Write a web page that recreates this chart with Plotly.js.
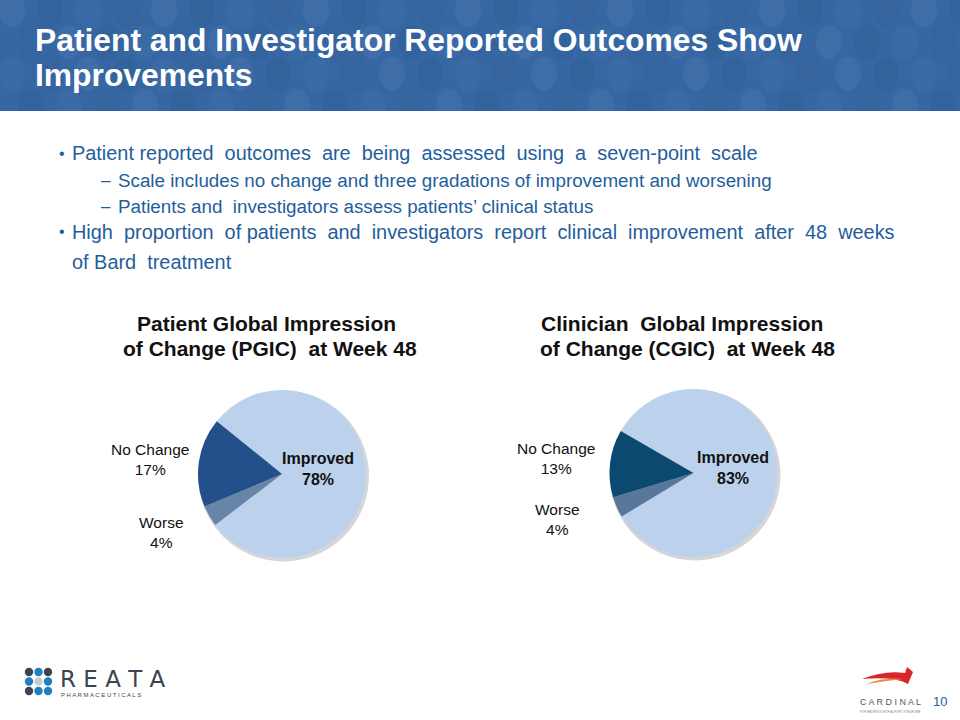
<!DOCTYPE html>
<html>
<head>
<meta charset="utf-8">
<script src="https://cdn.plot.ly/plotly-3.0.1.min.js"></script>
<style>html,body{margin:0;padding:0;background:#fff;}#chart{width:960px;height:720px;}</style>
</head>
<body>
<div id="chart"></div>
<script>
// ---- data ----
var pgicLabels = ["Improved", "Worse", "No Change"];
var pgicValues = [78, 4, 17];
var cgicLabels = ["Improved", "Worse", "No Change"];
var cgicValues = [83, 4, 13];

var slideTitle = ["Patient and Investigator Reported Outcomes Show", "Improvements"];
var chartTitles = [["Patient Global Impression", "of Change (PGIC)  at Week 48"],
                   ["Clinician  Global Impression", "of Change (CGIC)  at Week 48"]];
var bullets = [
  {lvl: 1, text: "Patient reported  outcomes  are  being  assessed  using  a  seven-point  scale"},
  {lvl: 2, text: "Scale includes no change and three gradations of improvement and worsening"},
  {lvl: 2, text: "Patients and  investigators assess patients’ clinical status"},
  {lvl: 1, text: "High  proportion  of patients  and  investigators  report  clinical  improvement  after  48  weeks"},
  {lvl: 0, text: "of Bard  treatment"}
];

// ---- helpers ----
var W = 960, H = 720;
function px(x) { return x / W; }
function py(y) { return 1 - y / H; }

var pgicColors = ["#bcd2ec", "#6784a9", "#23508a"];
var cgicColors = ["#bcd2ec", "#58779a", "#0b4970"];

// pie domains (pixel boxes)
var pieBoxes = [[198, 366, 390, 558], [609.5, 777.5, 389, 557]];

var data = [
  {type: "pie", labels: pgicLabels, values: pgicValues, sort: false, direction: "clockwise",
   rotation: -51, textinfo: "none", hoverinfo: "label+percent",
   marker: {colors: pgicColors, line: {width: 0}},
   domain: {x: [px(pieBoxes[0][0]), px(pieBoxes[0][1])], y: [py(pieBoxes[0][3]), py(pieBoxes[0][2])]}, showlegend: false},
  {type: "pie", labels: cgicLabels, values: cgicValues, sort: false, direction: "clockwise",
   rotation: -60, textinfo: "none", hoverinfo: "label+percent",
   marker: {colors: cgicColors, line: {width: 0}},
   domain: {x: [px(pieBoxes[1][0]), px(pieBoxes[1][1])], y: [py(pieBoxes[1][3]), py(pieBoxes[1][2])]}, showlegend: false}
];

var shapes = [];
var annotations = [];

// header band
shapes.push({type: "rect", xref: "paper", yref: "paper", x0: 0, x1: 1, y0: py(111), y1: 1,
  fillcolor: "#3767a2", line: {width: 0}, layer: "below"});
// subtle dotted texture in the band
var dotShades = ["#4272ac", "#31609a", "#3d6ea9", "#34629d"];
for (var r = 0; r < 4; r++) {
  for (var c = 0; c < 26; c++) {
    var cx = 12 + c * 38 + (r % 2) * 19;
    var cy = 10 + r * 32;
    var rx = 13, ry = 17;
    if (cy - ry >= 111) continue;
    shapes.push({type: "circle", xref: "paper", yref: "paper",
      x0: px(cx - rx), x1: px(cx + rx), y0: py(cy + ry), y1: py(cy - ry),
      fillcolor: dotShades[(r * 3 + c) % 4], opacity: 0.6, line: {width: 0}, layer: "below"});
  }
}
// cover circles that spill below band
shapes.push({type: "rect", xref: "paper", yref: "paper", x0: 0, x1: 1, y0: py(135), y1: py(111),
  fillcolor: "#ffffff", line: {width: 0}, layer: "below"});

// soft shadows behind pies
pieBoxes.forEach(function (b) {
  var cx = (b[0] + b[1]) / 2 + 1.5, cy = (b[2] + b[3]) / 2 + 2, rr = (b[1] - b[0]) / 2 + 1.5;
  shapes.push({type: "circle", xref: "paper", yref: "paper",
    x0: px(cx - rr), x1: px(cx + rr), y0: py(cy + rr), y1: py(cy - rr),
    fillcolor: "#8a8a8a", opacity: 0.35, line: {width: 0}, layer: "below"});
});

// slide title
annotations.push({xref: "paper", yref: "paper", x: px(33), y: py(40), xanchor: "left", yanchor: "middle",
  text: "<b>" + slideTitle[0] + "</b>", showarrow: false,
  font: {family: "Liberation Sans, Arial", size: 31.8, color: "#ffffff"}});
annotations.push({xref: "paper", yref: "paper", x: px(33), y: py(75), xanchor: "left", yanchor: "middle",
  text: "<b>" + slideTitle[1] + "</b>", showarrow: false,
  font: {family: "Liberation Sans, Arial", size: 31.8, color: "#ffffff"}});

// bullets
var bulletY = [153, 180, 206, 232, 262];
var blue = "#1f5e9c";
bullets.forEach(function (b, i) {
  var x, size;
  if (b.lvl === 1) { x = 70; size = 19.9; }
  else if (b.lvl === 2) { x = 116; size = 18.8; }
  else { x = 70; size = 19.9; }
  if (b.lvl === 1) {
    annotations.push({xref: "paper", yref: "paper", x: px(57), y: py(bulletY[i]), xanchor: "left", yanchor: "middle",
      text: "•", showarrow: false, font: {family: "Liberation Sans, Arial", size: 16, color: blue}});
  }
  if (b.lvl === 2) {
    annotations.push({xref: "paper", yref: "paper", x: px(99), y: py(bulletY[i]), xanchor: "left", yanchor: "middle",
      text: "–", showarrow: false, font: {family: "Liberation Sans, Arial", size: 17, color: blue}});
  }
  annotations.push({xref: "paper", yref: "paper", x: px(x), y: py(bulletY[i]), xanchor: "left", yanchor: "middle",
    text: b.text.replace(/  /g, " &nbsp;"), showarrow: false,
    font: {family: "Liberation Sans, Arial", size: size, color: blue}});
});

// chart titles
var titleX = [[266, 270], [682, 687]];
[0, 1].forEach(function (k) {
  annotations.push({xref: "paper", yref: "paper", x: px(titleX[k][0]), y: py(323), xanchor: "center", yanchor: "middle",
    text: "<b>" + chartTitles[k][0].replace(/  /g, " &nbsp;") + "</b>", showarrow: false,
    font: {family: "Liberation Sans, Arial", size: 21, color: "#111111"}});
  annotations.push({xref: "paper", yref: "paper", x: px(titleX[k][1]), y: py(348), xanchor: "center", yanchor: "middle",
    text: "<b>" + chartTitles[k][1].replace(/  /g, " &nbsp;") + "</b>", showarrow: false,
    font: {family: "Liberation Sans, Arial", size: 21, color: "#111111"}});
});

// slice labels
function sliceLabel(x, y, label, val, bold) {
  var t = label + "<br>" + val + "%";
  var size = 15.5;
  if (bold) { t = "<b>" + label + "<br>" + val + "%</b>"; size = 16; }
  annotations.push({xref: "paper", yref: "paper", x: px(x), y: py(y), xanchor: "center", yanchor: "middle",
    text: t, showarrow: false, align: "center",
    font: {family: "Liberation Sans, Arial", size: size, color: "#111111"}});
}
sliceLabel(318, 469, pgicLabels[0], pgicValues[0], true);
sliceLabel(150, 460, pgicLabels[2], pgicValues[2], false);
sliceLabel(161, 532, pgicLabels[1], pgicValues[1], false);
sliceLabel(733, 468, cgicLabels[0], cgicValues[0], true);
sliceLabel(556, 459, cgicLabels[2], cgicValues[2], false);
sliceLabel(557, 519, cgicLabels[1], cgicValues[1], false);

// REATA logo (decoration)
var dotColors = [["#3b4550", "#1f7fc0", "#3b4550"], ["#1f7fc0", "#c9cdd0", "#1f7fc0"], ["#3b4550", "#1f7fc0", "#1f7fc0"]];
for (var rr = 0; rr < 3; rr++) {
  for (var cc = 0; cc < 3; cc++) {
    var dx = 29 + cc * 9.5, dy = 672 + rr * 9.5;
    shapes.push({type: "circle", xref: "paper", yref: "paper",
      x0: px(dx - 4.2), x1: px(dx + 4.2), y0: py(dy + 4.2), y1: py(dy - 4.2),
      fillcolor: dotColors[rr][cc], line: {width: 0}});
  }
}
annotations.push({xref: "paper", yref: "paper", x: px(58), y: py(679), xanchor: "left", yanchor: "middle",
  text: "R E A T A", showarrow: false,
  font: {family: "DejaVu Sans, Liberation Sans", size: 23, color: "#3b4550"}});
annotations.push({xref: "paper", yref: "paper", x: px(59), y: py(695), xanchor: "left", yanchor: "middle",
  text: "P H A R M A C E U T I C A L S", showarrow: false,
  font: {family: "Liberation Sans, Arial", size: 6, color: "#3b4550"}});

// CARDINAL logo (decoration)
shapes.push({type: "path", xref: "paper", yref: "paper",
  path: "M " + px(862) + "," + py(679) + " Q " + px(885) + "," + py(670) + " " + px(905) + "," + py(673) +
        " L " + px(907) + "," + py(667) + " L " + px(913) + "," + py(672) + " L " + px(908) + "," + py(684) +
        " Q " + px(895) + "," + py(676) + " " + px(862) + "," + py(679) + " Z",
  fillcolor: "#d9262c", line: {width: 0}});
shapes.push({type: "path", xref: "paper", yref: "paper",
  path: "M " + px(866) + "," + py(684) + " Q " + px(885) + "," + py(677) + " " + px(903) + "," + py(679) +
        " Q " + px(886) + "," + py(681) + " " + px(866) + "," + py(684) + " Z",
  fillcolor: "#f08a4b", line: {width: 0}});
annotations.push({xref: "paper", yref: "paper", x: px(890), y: py(702), xanchor: "center", yanchor: "middle",
  text: "C A R D I N A L", showarrow: false,
  font: {family: "Liberation Sans, Arial", size: 9, color: "#555555"}});
annotations.push({xref: "paper", yref: "paper", x: px(890), y: py(712), xanchor: "center", yanchor: "middle",
  text: "FOR PATIENTS WITH ALPORT SYNDROME", showarrow: false,
  font: {family: "Liberation Sans, Arial", size: 3, color: "#888888"}});
annotations.push({xref: "paper", yref: "paper", x: px(940), y: py(701), xanchor: "center", yanchor: "middle",
  text: "10", showarrow: false,
  font: {family: "Liberation Sans, Arial", size: 13, color: "#1f5e9c"}});

var layout = {
  width: W, height: H,
  margin: {l: 0, r: 0, t: 0, b: 0},
  paper_bgcolor: "#ffffff",
  plot_bgcolor: "#ffffff",
  showlegend: false,
  shapes: shapes,
  annotations: annotations
};

Plotly.newPlot("chart", data, layout, {displayModeBar: false, staticPlot: true});
</script>
</body>
</html>
